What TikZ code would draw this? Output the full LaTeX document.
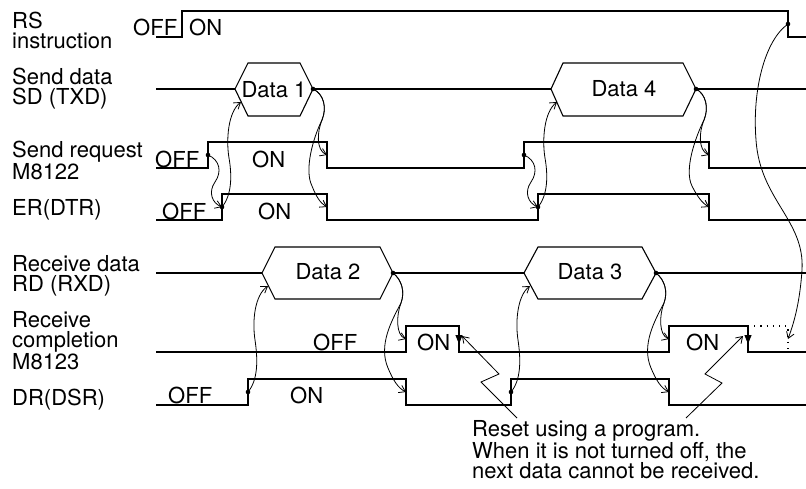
\documentclass[tikz,border=0pt]{standalone}
\usepackage{fontspec}
\setmainfont{TeX Gyre Heros}
\usepackage{tikz}
\usetikzlibrary{arrows.meta}
\newcommand{\sigfont}{\fontsize{22}{19.5}\selectfont}

\begin{document}
\begin{tikzpicture}[
  x=1pt, y=-1pt,
  lbl/.style={anchor=base west, inner sep=0pt, align=left, font=\sigfont},
  st/.style={anchor=base west, inner sep=0pt, font=\sigfont},
  dat/.style={anchor=base, inner sep=0pt, font=\sigfont},
  sig/.style={line width=1.1pt},
  arr/.style={line width=0.8pt, -{Straight Barb[length=6pt,width=8pt]}},
  fall/.style={line width=1.1pt, -{Triangle[length=9pt,width=7pt]}},
  dots/.style={line width=1.1pt, dash pattern=on 1.2pt off 5pt}
]
\useasboundingbox (0,0) rectangle (806,488);

\node[lbl] (rsl) at (12,48) {RS\\instruction};
\node[lbl] (sdl) at (12,104) {Send data\\SD (TXD)};
\node[lbl] (srl) at (12,179) {Send request\\M8122};
\node[lbl] (erl) at (12,215) {ER(DTR)};
\node[lbl] (rdl) at (12,291) {Receive data\\RD (RXD)};
\node[lbl] (rcl) at (12,369) {Receive\\completion\\M8123};
\node[lbl] (drl) at (12,405) {DR(DSR)};

\node[st] (rsoff) at (133,35) {OFF};
\node[st] (rson) at (189,35) {ON};
\node[st] (sroff) at (155,167) {OFF};
\node[st] (sron) at (252,167) {ON};
\node[st] (eroff) at (162,219) {OFF};
\node[st] (eron) at (258,219) {ON};
\node[st] (rcoff) at (313,350) {OFF};
\node[st] (rcon1) at (417,350) {ON};
\node[st] (rcon2) at (686,350) {ON};
\node[st] (droff) at (168,403) {OFF};
\node[st] (dron) at (290,403) {ON};

\node[dat] (d1) at (274,97) {Data 1};
\node[dat] (d4) at (624,96) {Data 4};
\node[dat] (d2) at (328,279) {Data 2};
\node[dat] (d3) at (590,279) {Data 3};

\node[lbl] (note) at (472,478) {Reset using a program.\\When it is not turned off, the\\next data cannot be received.};

\draw[sig] (156,37) -| (182,11) -| (788,37) -- (806,37);
\draw[sig] (156,89) -- (235,89) (313,89) -- (551,89) (696,89) -- (806,89);
\draw[sig] (235,89) -- (248,63) -- (300,63) -- (313,89) -- (300,116) -- (248,116) -- cycle;
\draw[sig] (551,89) -- (563,63) -- (683,63) -- (696,89) -- (683,116) -- (563,116) -- cycle;
\draw[sig] (156,168) -| (208,142) -| (327,168) -| (524,142) -| (709,168) -- (806,168);
\draw[sig] (156,220) -| (222,194) -| (327,220) -| (538,194) -| (709,220) -- (806,220);
\draw[sig] (156,273) -- (262,273) (393,273) -- (524,273) (656,273) -- (806,273);
\draw[sig] (262,273) -- (275,247) -- (380,247) -- (393,273) -- (380,299) -- (275,299) -- cycle;
\draw[sig] (524,273) -- (538,247) -- (642,247) -- (656,273) -- (642,299) -- (538,299) -- cycle;
\draw[sig] (156,352) -| (406,326) -| (459,352) -| (669,326) -| (748,352) -- (806,352);
\draw[dots] (748,326) -| (788,352);
\draw[sig] (156,405) -| (248,379) -| (406,405) -| (511,379) -| (669,405) -- (806,405);

\coordinate (rs) at (788,24);
\coordinate (sr1) at (208,155);
\coordinate (er1) at (222,207);
\coordinate (d1e) at (313,89);
\coordinate (d1in) at (241,102);
\coordinate (srf1) at (327,155);
\coordinate (erf1) at (327,207);
\coordinate (sr2) at (524,155);
\coordinate (er2) at (538,207);
\coordinate (d4e) at (696,89);
\coordinate (d4in) at (557,102);
\coordinate (srf2) at (709,155);
\coordinate (erf2) at (709,207);
\coordinate (dr1) at (248,392);
\coordinate (d2e) at (393,273);
\coordinate (d2in) at (268,286);
\coordinate (rcr1) at (406,339);
\coordinate (drf1) at (406,392);
\coordinate (dr2) at (511,392);
\coordinate (d3e) at (656,273);
\coordinate (d3in) at (530,286);
\coordinate (rcr2) at (669,339);
\coordinate (drf2) at (669,392);
\coordinate (rcend) at (788,339);
\coordinate (rcf1) at (459,326);
\coordinate (rcf2) at (748,326);
\coordinate (rst1) at (462,336);
\coordinate (rst2) at (743,336);
\coordinate (z1) at (517,418);
\coordinate (z2) at (686,418);

\fill (rs) circle (2.3pt) (sr1) circle (2.3pt) (er1) circle (2.3pt) (d1e) circle (2.3pt)
  (sr2) circle (2.3pt) (er2) circle (2.3pt) (d4e) circle (2.3pt) (dr1) circle (2.3pt)
  (d2e) circle (2.3pt) (dr2) circle (2.3pt) (d3e) circle (2.3pt);

\draw[arr] (sr1) .. controls (220,160) and (222,172) .. (215,182) .. controls (208,192) and (212,203) .. (er1);
\draw[arr] (er1) .. controls (232,195) and (232,175) .. (229,158) .. controls (226,140) and (228,112) .. (d1in);
\draw[arr] (d1e) .. controls (324,94) and (327,108) .. (322,120) .. controls (317,132) and (316,150) .. (srf1);
\draw[arr] (d1e) .. controls (324,94) and (327,108) .. (322,120) .. controls (313,138) and (304,170) .. (312,186) .. controls (316,196) and (320,203) .. (erf1);
\draw[arr] (sr2) .. controls (536,160) and (538,172) .. (531,182) .. controls (524,192) and (528,203) .. (er2);
\draw[arr] (er2) .. controls (548,195) and (548,175) .. (545,158) .. controls (542,140) and (544,112) .. (d4in);
\draw[arr] (d4e) .. controls (706,94) and (709,108) .. (704,120) .. controls (699,132) and (698,150) .. (srf2);
\draw[arr] (d4e) .. controls (706,94) and (709,108) .. (704,120) .. controls (695,138) and (684,170) .. (692,186) .. controls (697,196) and (702,203) .. (erf2);
\draw[arr] (dr1) .. controls (258,380) and (258,360) .. (255,340) .. controls (252,320) and (255,295) .. (d2in);
\draw[arr] (d2e) .. controls (402,280) and (405,292) .. (401,303) .. controls (396,316) and (396,335) .. (rcr1);
\draw[arr] (d2e) .. controls (402,280) and (405,292) .. (401,303) .. controls (392,320) and (378,345) .. (388,368) .. controls (393,380) and (398,388) .. (drf1);
\draw[arr] (dr2) .. controls (521,380) and (521,360) .. (518,340) .. controls (515,320) and (518,295) .. (d3in);
\draw[arr] (d3e) .. controls (665,280) and (668,292) .. (664,303) .. controls (659,316) and (659,335) .. (rcr2);
\draw[arr] (d3e) .. controls (665,280) and (668,292) .. (664,303) .. controls (655,320) and (641,345) .. (651,368) .. controls (656,380) and (661,388) .. (drf2);
\draw[arr] (rs) .. controls (765,40) and (752,90) .. (756,140) .. controls (760,200) and (805,220) .. (802,270) .. controls (800,300) and (795,320) .. (rcend);
\draw[fall] (rcf1) -- +(0,18);
\draw[fall] (rcf2) -- +(0,18);
\draw[arr] (z1) -- (481,382) -- (499,374) -- (rst1);
\draw[arr] (z2) -- (722,383) -- (705,374) -- (rst2);
\end{tikzpicture}
\end{document}
